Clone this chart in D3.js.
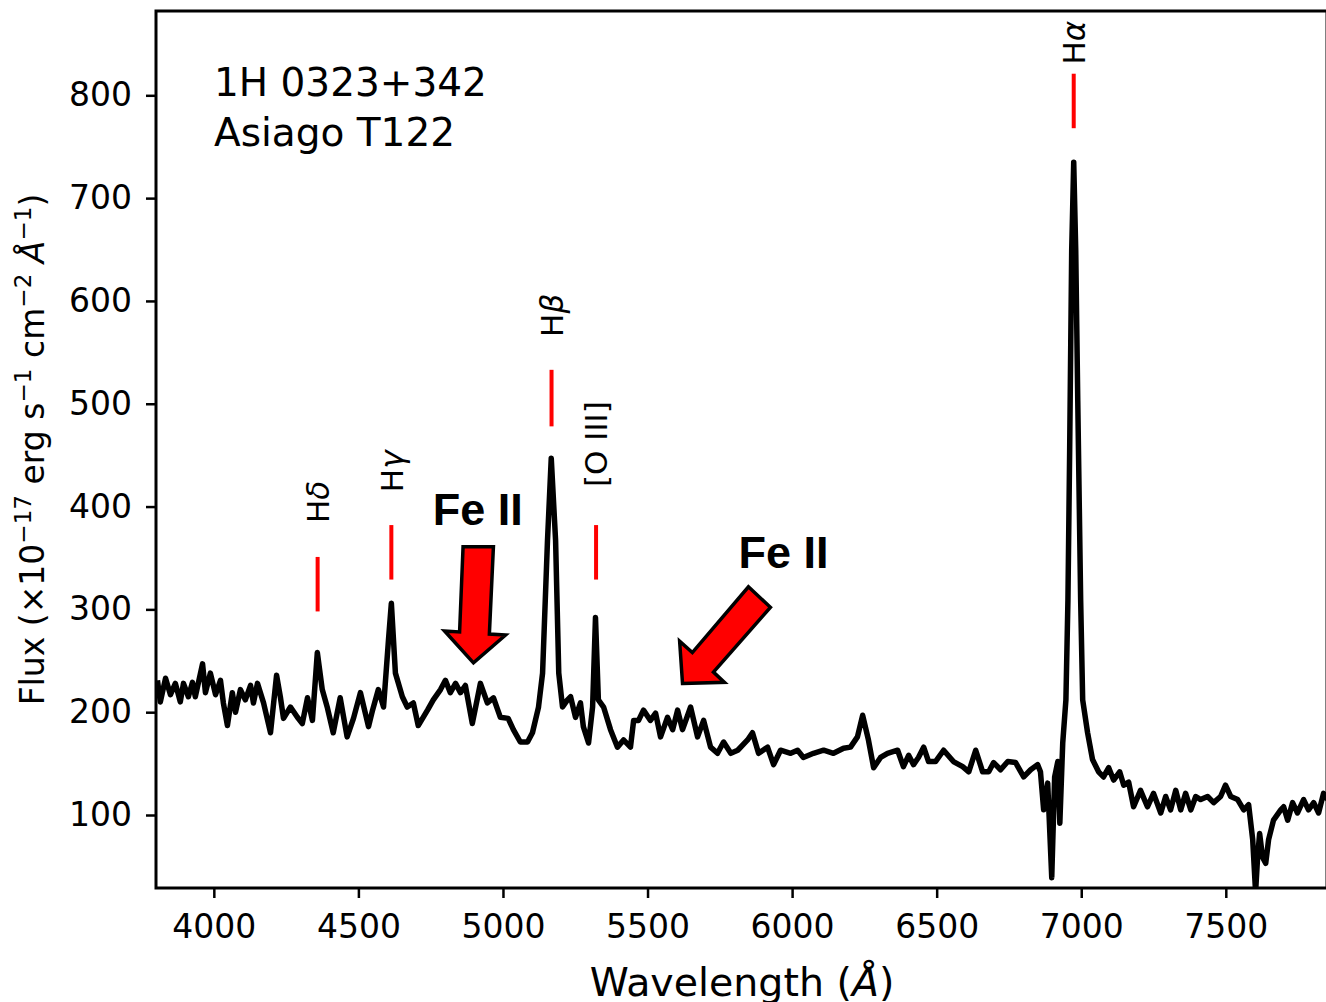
<!DOCTYPE html>
<html>
<head>
<meta charset="utf-8">
<script src="https://cdn.jsdelivr.net/npm/d3@7"></script>
<style>
  body { margin: 0; background: #fff; }
  text { font-family: "DejaVu Sans", sans-serif; fill: #000; }
</style>
</head>
<body>
<svg width="1326" height="1002"></svg>
<script>
// spectrum (wavelength in A, flux in 1e-17 erg/s/cm2/A)
var wave = [3805,3815,3833,3850,3867,3884,3895,3912,3926,3936,3961,3971,3988,4006,4023,4033,4047,4064,4075,4092,
    4109,4127,4137,4151,4172,4196,4217,4230,4241,4265,4289,4306,4324,4341,4358,4375,4393,4413,4437,4461,
    4483,4507,4535,4549,4569,4587,4604,4614,4628,4652,4669,4690,4707,4739,4759,4784,4801,4818,4836,4853,
    4870,4894,4922,4946,4967,4991,5018,5036,5060,5085,5102,5123,5137,5154,5167,5182,5193,5206,5223,5234,
    5251,5268,5278,5296,5310,5320,5330,5348,5372,5396,5417,5441,5452,5469,5486,5510,5528,5545,5569,5587,
    5604,5621,5649,5673,5694,5718,5742,5763,5788,5812,5846,5863,5884,5915,5936,5960,5995,6019,6039,6074,
    6109,6143,6178,6202,6226,6244,6264,6282,6306,6330,6365,6385,6403,6420,6437,6455,6472,6496,6524,6558,
    6590,6611,6635,6659,6680,6697,6721,6746,6773,6801,6825,6849,6859,6870,6884,6898,6908,6919,6926,6936,
    6947,6954,6960,6967,6974,6981,6988,6998,7005,7022,7039,7060,7077,7095,7112,7133,7147,7164,7181,7205,
    7229,7250,7275,7292,7309,7327,7344,7361,7379,7396,7413,7437,7458,7482,7499,7517,7541,7562,7579,7593,
    7603,7610,7617,7627,7638,7648,7665,7690,7700,7714,7731,7748,7769,7786,7804,7821,7838,7852];
var flux = [231,210,233,217,228,210,228,215,229,215,247,219,238,217,231,209,187,219,200,222,
    212,226,209,228,209,180,236,215,194,205,195,189,214,192,258,222,204,180,214,176,
    194,219,186,202,222,205,270,306,238,215,205,209,187,202,212,222,231,219,228,219,
    226,189,228,209,214,195,194,183,171,171,180,205,238,367,447,367,238,205,212,215,
    195,209,186,170,205,292,212,205,183,166,173,166,192,192,202,192,199,176,195,183,
    202,183,205,176,192,166,160,171,160,163,173,180,160,166,149,163,160,163,156,160,
    163,160,165,166,176,197,173,146,156,160,163,147,158,149,156,166,152,152,163,152,
    147,142,163,142,142,151,144,152,151,137,144,149,142,105,131,39,137,152,92,170,
    212,309,455,649,735,649,503,309,212,180,154,142,137,146,134,142,129,132,108,124,
    108,121,102,118,105,124,105,121,105,118,115,118,112,118,129,118,115,105,110,76,
    25,59,82,59,53,76,95,105,108,95,112,102,115,105,112,102,121,115];

// emission line markers
var lineNames = ['Hδ', 'Hγ', 'Hβ', '[O III]', 'Hα'];
var lineWave = [4359, 4614, 5168, 5322, 6974];
var markTop = [351, 382, 533, 382, 821];
var markBottom = [298, 329, 478, 329, 768];
var labelStart = [384, 414, 565, 419, 830];

// Fe II arrows (wavelength, flux)
var arrow1 = [[4862,361],[4967,361],[4953,276],[5009,275],[4898,248],[4798,279],[4850,278]];
var arrow2 = [[5621,228],[5766,229],[5728,239],[5925,302],[5849,322],[5655,258],[5611,269]];
var feLabels = [[4757,382],[5815,340]];

var xTicks = [4000,4500,5000,5500,6000,6500,7000,7500];
var yTicks = [100,200,300,400,500,600,700,800];

var pLeft = 156, pTop = 11, pRight = 1327, pBottom = 888;

var svg = d3.select('svg');

var scaleX = d3.scaleLinear().domain([3800,7850]).range([pLeft,pRight]);
var scaleY = d3.scaleLinear().domain([29,882]).range([pBottom,pTop]);

svg.append('clipPath').attr('id','plot')
    .append('rect')
    .attr('x',pLeft).attr('y',pTop)
    .attr('width',pRight-pLeft).attr('height',pBottom-pTop);

var pts = wave.map(function(w,i){ return [w, flux[i]]; });

svg.append('path')
    .datum(pts)
    .attr('clip-path','url(#plot)')
    .attr('fill','none')
    .attr('stroke','#000')
    .attr('stroke-width',5.5)
    .attr('stroke-linejoin','round')
    .attr('d', d3.line()
        .x(function(d){ return scaleX(d[0]); })
        .y(function(d){ return scaleY(d[1]); }));

// red markers and their labels
svg.selectAll('line.mark')
    .data(lineWave)
    .enter()
    .append('line')
    .attr('class','mark')
    .attr('x1', function(d){ return scaleX(d); })
    .attr('x2', function(d){ return scaleX(d); })
    .attr('y1', function(d,i){ return scaleY(markTop[i]); })
    .attr('y2', function(d,i){ return scaleY(markBottom[i]); })
    .attr('stroke','#ff0000')
    .attr('stroke-width',4);

svg.selectAll('text.lname')
    .data(lineNames)
    .enter()
    .append('text')
    .attr('class','lname')
    .attr('transform', function(d,i){
        return 'translate(' + scaleX(lineWave[i]) + ',' + scaleY(labelStart[i]) + ') rotate(-90)';
    })
    .attr('dy','0.36em')
    .attr('font-size',31)
    .each(function(d){
        var t = d3.select(this);
        if (d.charAt(0) == 'H') {
            t.append('tspan').text('H');
            t.append('tspan').attr('font-style','italic').text(d.slice(1));
        } else {
            t.text(d);
        }
    });

// arrows
[arrow1, arrow2].forEach(function(a){
    svg.append('polygon')
        .attr('points', a.map(function(p){ return scaleX(p[0]) + ',' + scaleY(p[1]); }).join(' '))
        .attr('fill','#ff0000')
        .attr('stroke','#000')
        .attr('stroke-width',3.5)
        .attr('stroke-linejoin','miter');
});

svg.selectAll('text.fe')
    .data(feLabels)
    .enter()
    .append('text')
    .attr('class','fe')
    .attr('x', function(d){ return scaleX(d[0]); })
    .attr('y', function(d){ return scaleY(d[1]); })
    .style('font-family','"Liberation Sans", Arial, sans-serif')
    .attr('font-weight','bold')
    .attr('font-size',45)
    .text('Fe II');

// object name
svg.append('text')
    .attr('x',pLeft+58).attr('y',pTop+85)
    .attr('font-size',39)
    .text('1H 0323+342');
svg.append('text')
    .attr('x',pLeft+58).attr('y',pTop+135)
    .attr('font-size',39)
    .text('Asiago T122');

// axes
var xAxis = svg.append('g')
    .attr('transform','translate(0,' + pBottom + ')')
    .call(d3.axisBottom(scaleX).tickValues(xTicks).tickFormat(d3.format('d'))
        .tickSize(10).tickPadding(17).tickSizeOuter(0));
var yAxis = svg.append('g')
    .attr('transform','translate(' + pLeft + ',0)')
    .call(d3.axisLeft(scaleY).tickValues(yTicks).tickFormat(d3.format('d'))
        .tickSize(10).tickPadding(14).tickSizeOuter(0));

[xAxis, yAxis].forEach(function(g){
    g.select('.domain').remove();
    g.selectAll('line').attr('stroke','#000').attr('stroke-width',2.5);
    g.selectAll('text').attr('font-size',33).style('font-family','"DejaVu Sans", sans-serif');
});

svg.append('rect')
    .attr('x',pLeft).attr('y',pTop)
    .attr('width',pRight-pLeft).attr('height',pBottom-pTop)
    .attr('fill','none')
    .attr('stroke','#000')
    .attr('stroke-width',3);

svg.append('text')
    .attr('x',742).attr('y',996)
    .attr('text-anchor','middle')
    .attr('font-size',39.5)
    .html('Wavelength (<tspan font-style="italic">Å</tspan>)');

var yl = svg.append('text')
    .attr('transform','translate(44,' + (pTop+pBottom)/2 + ') rotate(-90)')
    .attr('text-anchor','middle')
    .attr('font-size',33);
yl.append('tspan').text('Flux (×10');
yl.append('tspan').attr('baseline-shift','super').attr('font-size','70%').text('−17');
yl.append('tspan').text(' erg s');
yl.append('tspan').attr('baseline-shift','super').attr('font-size','70%').text('−1');
yl.append('tspan').text(' cm');
yl.append('tspan').attr('baseline-shift','super').attr('font-size','70%').text('−2');
yl.append('tspan').text(' ');
yl.append('tspan').attr('font-style','italic').text('Å');
yl.append('tspan').attr('baseline-shift','super').attr('font-size','70%').text('−1');
yl.append('tspan').text(')');
</script>
</body>
</html>
